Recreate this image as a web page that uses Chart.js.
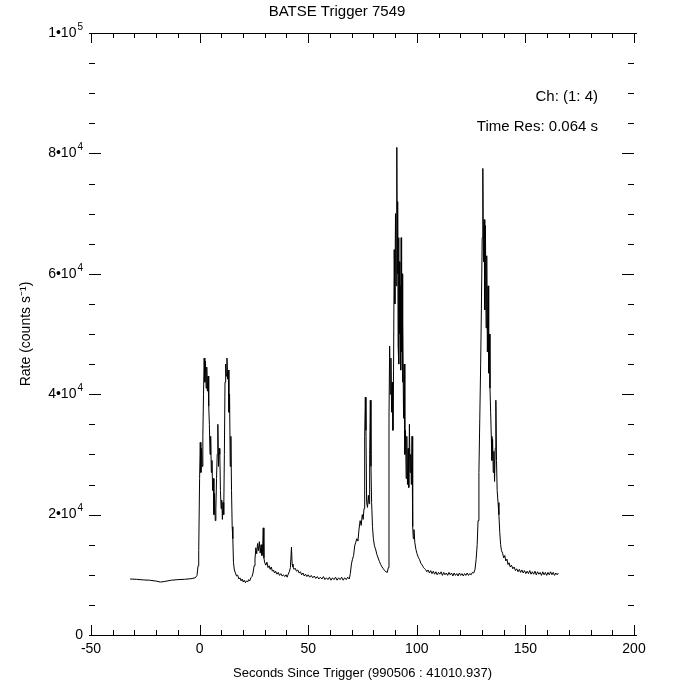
<!DOCTYPE html>
<html>
<head>
<meta charset="utf-8">
<title>BATSE Trigger 7549</title>
<script src="https://cdn.jsdelivr.net/npm/chart.js@4"></script>
<style>
  html, body { margin: 0; padding: 0; background: #fff; }
  #wrap { width: 674px; height: 684px; position: relative; }
</style>
</head>
<body>
<div id="wrap"><canvas id="lineChart"></canvas></div>
<script>
// [seconds since trigger, rate (counts/s)]
const preTrigger = [[-32,9300],[-29,9250],[-26,9150],[-23,9100],[-20,8950],[-18,8800],[-16,8900],[-13,9100],
  [-10,9200],[-7,9250],[-4,9350],[-2,9500],[-1.2,9900],[-0.7,11500]];

const pulse1 = [[-0.4,14000],[0,26000],[0.3,32000],[0.6,27000],[0.9,31000],[1.2,28000],[1.5,33000],[1.8,40000],
  [2.1,46000],[2.4,42000],[2.7,45500],[3.0,41000],[3.3,44500],[3.6,40500],[3.9,43000],[4.2,38000],[4.5,35000],
  [4.8,30000],[5.1,33000],[5.4,27000],[5.7,29000],[6.0,24000],[6.3,26000],[6.6,20000],[6.9,23500],[7.2,19000],
  [7.5,21000],[7.8,26000],[8.1,30000],[8.4,35000],[8.7,28000],[9.0,31000],[9.3,30000],[9.6,24000],[9.9,21000],
  [10.2,22400],[10.5,19200],[10.8,22000],[11.1,20000],[11.4,30000],[11.7,42000],[12.0,45000],[12.3,43000],
  [12.6,46000],[12.9,42500],[13.2,44000],[13.5,37000],[13.8,40000],[14.1,28000],[14.4,33000],[14.7,24000],
  [15.0,18000],[15.3,16000],[15.6,12000],[16.0,10800]];

const between1 = [[16.5,10300],[17.0,9800],[17.5,9950],[18.1,9300],[18.6,9500],[19.1,9000],[19.6,9300],[20.1,8800],
  [20.6,9100],[21.1,8700],[21.6,9000],[22.1,8800],[22.6,9200],[23.1,9000],[23.6,9500],[24.1,9700],[24.6,10300],
  [25.1,11500],[25.5,12600],[25.9,14500],[26.3,13500],[26.7,15200],[27.1,14000],[27.5,15500],[27.9,13600],
  [28.3,15000],[28.7,13200],[29.0,14200],[29.3,17800],[29.6,12800],[30.0,12000],[30.5,11600],[31.0,12100],
  [31.5,11200],[32.0,11500],[32.5,10900],[33.0,11300],[33.5,10600],[34.0,10800],[34.5,10300],[35.0,10600],
  [35.6,10100],[36.2,10400],[36.8,9900],[37.4,10200],[38.0,9800],[38.6,10000],[39.2,9700],[39.8,10000],
  [40.3,9600],[40.8,10100],[41.3,10500],[41.8,11200],[42.3,14600],[42.6,11800],[43.0,11300],[43.5,10900],
  [44.0,11100],[44.6,10600],[45.2,10800],[45.8,10300],[46.4,10500],[47.0,10000],[47.6,10300],[48.2,9800],
  [48.8,10100],[49.4,9700],[50.0,10000],[50.7,9600],[51.4,9900],[52.1,9500],[52.8,9800],[53.5,9400],
  [54.2,9700],[54.9,9300],[55.6,9600],[56.3,9300],[57.0,9700],[57.7,9200],[58.4,9500],[59.1,9200],[59.8,9600],
  [60.5,9100],[61.2,9500],[61.9,9200],[62.6,9600],[63.3,9100],[64.0,9500],[64.7,9200],[65.4,9600],[66.1,9100],
  [66.8,9500],[67.5,9200],[68.2,9600],[68.9,9300]];

const precursor2 = [[69.4,10200],[69.9,11800],[70.4,12600],[70.9,13200],[71.4,14800],[71.9,15400],[72.4,16000],
  [72.9,15600],[73.4,17600],[73.9,19000],[74.4,18200],[74.9,20000],[75.3,19200],[75.7,21000],[76.0,33000],
  [76.3,39500],[76.6,34000],[76.9,22000],[77.3,21200],[77.7,23200],[78.0,21800],[78.3,30000],[78.6,39000],
  [78.9,28000],[79.2,22000],[79.6,18000],[80.0,16000],[80.5,14800],[81.0,14300],[81.6,13400],[82.2,12800],
  [82.8,12200],[83.4,11700],[84.0,11300],[84.6,11000],[85.2,10700],[85.8,10500],[86.4,10400],[86.9,11200]];

const pulse2 = [[87.2,36000],[87.5,48000],[87.8,40000],[88.1,46000],[88.4,37000],[88.7,42000],[89.0,34000],
  [89.3,44000],[89.6,64000],[89.9,55000],[90.2,70000],[90.5,58000],[90.8,81000],[91.0,60000],[91.2,72000],
  [91.4,48000],[91.6,66000],[91.8,45000],[92.0,62000],[92.2,50000],[92.4,58000],[92.6,44000],[92.8,66000],
  [93.0,47000],[93.2,60000],[93.4,42000],[93.6,52000],[93.9,36000],[94.2,45000],[94.5,30000],[94.8,34000],
  [95.1,26000],[95.4,33000],[95.7,25000],[96.0,31000],[96.3,24500],[96.6,35000],[96.9,27000],[97.2,30000],
  [97.5,25000],[97.8,33000],[98.1,18000],[98.4,16000],[98.7,17500],[99.1,15300],[99.6,14200],[100.1,13500],
  [100.7,12900],[101.3,12500],[101.9,11900],[102.5,11600],[103.1,11200],[103.6,11000]];

const between2 = [[104.0,10900],[104.6,10500],[105.2,10800],[105.8,10300],[106.4,10700],[107.0,10200],
  [107.6,10600],[108.2,10100],[108.8,10500],[109.4,10000],[110.0,10400],[110.6,10100],[111.2,10500],
  [111.8,9900],[112.4,10400],[113.0,10000],[113.6,10300],[114.2,9900],[114.8,10400],[115.4,10000],
  [116.0,10300],[116.6,9800],[117.2,10300],[117.8,9900],[118.4,10200],[119.0,9800],[119.6,10300],[120.2,9900],
  [120.8,10200],[121.4,9800],[122.0,10200],[122.6,9900],[123.2,10300],[123.8,9900],[124.4,10200],[125.0,10000],
  [125.6,10400],[126.2,10300],[126.8,10900]];

const pulse3 = [[127.3,12500],[127.8,15000],[128.2,19000],[128.6,27000],[129.0,36000],[129.4,45000],
  [129.8,56000],[130.1,66000],[130.4,77500],[130.7,62000],[131.0,69000],[131.3,54000],[131.6,68000],
  [131.9,51000],[132.2,63000],[132.5,47000],[132.8,58000],[133.1,43500],[133.4,50000],[133.7,41000],
  [134.0,37000],[134.3,33000],[134.6,29000],[134.9,32500],[135.2,27000],[135.5,30500],[135.8,25500],
  [136.1,31000],[136.4,39000],[136.7,29000],[137.0,24000],[137.4,22000],[137.8,20000],[138.2,17000],
  [138.6,15000]];

const tail = [[139.0,14000],[139.5,13600],[140.0,12800],[140.5,13200],[141.0,12300],[141.5,12600],[142.0,11700],
  [142.5,12000],[143.0,11300],[143.6,11600],[144.2,11000],[144.8,11300],[145.4,10700],[146.0,11000],
  [146.6,10500],[147.2,10900],[147.8,10400],[148.4,10800],[149.0,10300],[149.6,10700],[150.2,10200],
  [150.8,10600],[151.4,10200],[152.0,10700],[152.6,10100],[153.2,10500],[153.8,10100],[154.4,10600],
  [155.0,10000],[155.6,10500],[156.2,10100],[156.8,10400],[157.4,9900],[158.0,10500],[158.6,10000],
  [159.2,10400],[159.8,9900],[160.4,10400],[161.0,10000],[161.6,10500],[162.2,10000],[162.8,10400],
  [163.4,9900],[164.0,10300],[164.6,10000],[165.2,10300]];

// y tick labels: mantissa part and exponent (drawn as superscript)
const yTickValues = [0, 20000, 40000, 60000, 80000, 100000];
const yTickBase = ["0", "2\u202210", "4\u202210", "6\u202210", "8\u202210", "1\u202210"];
const yTickExp = ["", "4", "4", "4", "4", "5"];
const notes = ["Ch: (1: 4)", "Time Res: 0.064 s"];

const lightCurve = [].concat(preTrigger, pulse1, between1, precursor2, pulse2, between2, pulse3, tail)
  .map(p => ({ x: p[0], y: p[1] }));

const FONT = '"Liberation Sans", Arial, Helvetica, sans-serif';

// frame: top/bottom lines, tick marks on all sides, y labels with superscripts, notes
const marco = {
  id: "marco",
  afterDraw(chart) {
    const { ctx, chartArea: a, scales: { x, y } } = chart;
    ctx.save();
    ctx.strokeStyle = "#000";
    ctx.lineWidth = 1;
    ctx.beginPath();
    ctx.moveTo(a.left, a.top + 0.5); ctx.lineTo(a.right + 3, a.top + 0.5);
    ctx.moveTo(a.left, a.bottom + 0.5); ctx.lineTo(a.right + 3, a.bottom + 0.5);
    for (let t = -50; t <= 200; t += 10) {
      const px = Math.round(x.getPixelForValue(t)) + 0.5;
      const len = t % 50 === 0 ? 10 : 5;
      ctx.moveTo(px, a.bottom); ctx.lineTo(px, a.bottom - len);
      ctx.moveTo(px, a.top); ctx.lineTo(px, a.top + len);
    }
    for (let v = 0; v <= 100000; v += 5000) {
      const py = Math.round(y.getPixelForValue(v)) + 0.5;
      const len = v % 20000 === 0 ? 12 : 6;
      ctx.moveTo(a.left - 2, py); ctx.lineTo(a.left - 2 + len, py);
      ctx.moveTo(a.right, py); ctx.lineTo(a.right - len, py);
    }
    ctx.stroke();

    ctx.fillStyle = "#000";
    ctx.textBaseline = "middle";
    ctx.textAlign = "left";
    yTickValues.forEach((v, i) => {
      const py = y.getPixelForValue(v);
      ctx.font = "14px " + FONT;
      const wb = ctx.measureText(yTickBase[i]).width;
      ctx.font = "10px " + FONT;
      const we = yTickExp[i] ? ctx.measureText(yTickExp[i]).width + 1 : 0;
      const x0 = a.left - 8 - wb - we;
      ctx.font = "14px " + FONT;
      ctx.fillText(yTickBase[i], x0, py);
      if (yTickExp[i]) {
        ctx.font = "10px " + FONT;
        ctx.fillText(yTickExp[i], x0 + wb + 1, py - 6);
      }
    });

    ctx.font = "15px " + FONT;
    ctx.textAlign = "right";
    ctx.fillText(notes[0], 598, 97);
    ctx.fillText(notes[1], 598, 127);
    ctx.restore();
  }
};

new Chart(document.getElementById("lineChart").getContext("2d"), {
  type: "line",
  data: {
    datasets: [{
      label: "Rate",
      data: lightCurve,
      borderColor: "#000",
      borderWidth: 1,
      pointRadius: 0,
      tension: 0,
      fill: false,
      yAxisID: "y"
    }]
  },
  options: {
    responsive: true,
    maintainAspectRatio: false,
    animation: false,
    layout: { padding: 0 },
    plugins: {
      legend: { display: false },
      tooltip: { enabled: false },
      title: {
        display: true,
        text: "BATSE Trigger 7549",
        color: "#000",
        font: { family: FONT, size: 15, weight: "normal" },
        padding: { top: 3, bottom: 12 }
      }
    },
    scales: {
      x: {
        type: "linear",
        min: -50,
        max: 200,
        afterFit(s) { s.height = 49; },
        border: { display: false },
        grid: { display: false, drawTicks: false },
        ticks: { stepSize: 50, padding: 6, color: "#000", font: { family: FONT, size: 14 } },
        title: {
          display: true,
          text: "Seconds Since Trigger (990506 : 41010.937)",
          color: "#000",
          font: { family: FONT, size: 13 },
          padding: { top: 0, bottom: 3 }
        }
      },
      y: {
        min: 0,
        max: 100000,
        afterFit(s) { s.width = 91; },
        border: { display: false },
        grid: { display: false, drawTicks: false },
        ticks: { display: false, stepSize: 20000 },
        title: {
          display: true,
          text: "Rate (counts s\u207B\u00B9)",
          color: "#000",
          font: { family: FONT, size: 14 },
          padding: { top: 18, bottom: 0 }
        }
      },
      yRight: {
        position: "right",
        min: 0,
        max: 100000,
        afterFit(s) { s.width = 40; },
        border: { display: false },
        grid: { display: false, drawTicks: false },
        ticks: { display: false }
      }
    }
  },
  plugins: [marco]
});
</script>
</body>
</html>
